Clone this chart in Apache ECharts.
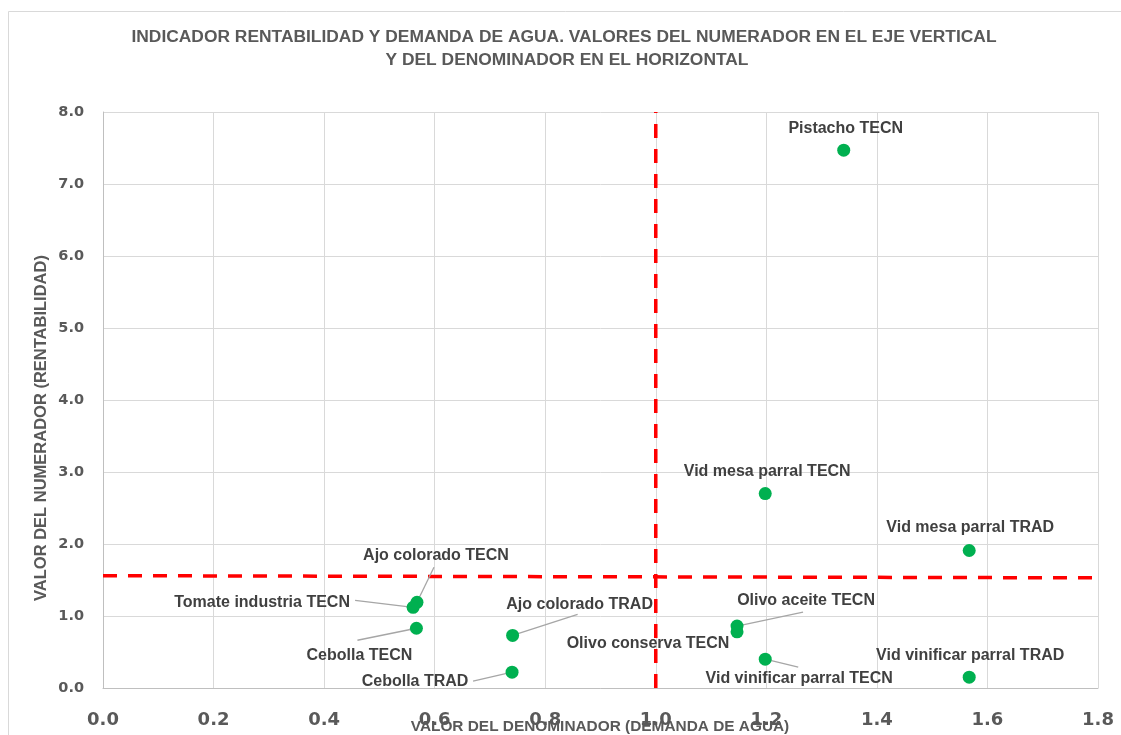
<!DOCTYPE html>
<html><head><meta charset="utf-8">
<script src="https://cdn.jsdelivr.net/npm/echarts@6/dist/echarts.min.js"></script>
<style>html,body{margin:0;padding:0;background:#fff}#c{width:1121px;height:735px}</style>
</head><body><div id="c"></div>
<script>
// ---- data ----
const cultivos = [
  "Pistacho TECN", "Vid mesa parral TECN", "Vid mesa parral TRAD",
  "Ajo colorado TECN", "Tomate industria TECN", "Cebolla TECN",
  "Ajo colorado TRAD", "Cebolla TRAD", "Olivo aceite TECN",
  "Olivo conserva TECN", "Vid vinificar parral TECN", "Vid vinificar parral TRAD"
];
const demandaAgua = [1.340, 1.198, 1.567, 0.568, 0.561, 0.567, 0.741, 0.740, 1.147, 1.147, 1.198, 1.567];
const rentabilidad = [7.47, 2.70, 1.91, 1.19, 1.12, 0.83, 0.73, 0.22, 0.86, 0.78, 0.40, 0.15];
const umbralRentabilidad = [[0, 1.56], [1.8, 1.53]];
const umbralDemanda = [[1.0, 0], [1.0, 8.0]];
const xTicks = [0, 0.2, 0.4, 0.6, 0.8, 1.0, 1.2, 1.4, 1.6, 1.8];
const yTicks = [0, 1, 2, 3, 4, 5, 6, 7, 8];

// ---- label layout (offsets from the point, px) ----
const labelOffsets = [
  [2, -22], [2, -22], [1, -23], [19, -47], [-151, -5], [-57, 27],
  [67, -31], [-97, 9], [69, -25], [-89, 12], [34, 19], [1, -22]
];
// leader line end, relative to the point (null = no leader)
const leaderOffsets = [
  null, null, null, [17, -35], [-58, -7], [-59, 12],
  [65, -21], [-39, 9], [66, -14], null, [33, 8], null
];

const chart = echarts.init(document.getElementById('c'));
const gray = '#595959';
const tickFont = 'DejaVu Sans';
const sans = '"Liberation Sans", Arial, sans-serif';
const puntos = cultivos.map((n, i) => [demandaAgua[i], rentabilidad[i], i]);

chart.setOption({
  animation: false,
  backgroundColor: '#fff',
  graphic: [
    { type: 'rect', left: 6, top: 9, shape: { width: 1300, height: 900 }, style: { fill: 'none', stroke: '#d9d9d9', lineWidth: 1 }, silent: true, z: -10 },
    { type: 'text', x: 564, y: 37, style: { text: 'INDICADOR RENTABILIDAD Y DEMANDA DE AGUA. VALORES DEL NUMERADOR EN EL EJE VERTICAL', font: 'bold 17.4px ' + sans, fill: gray, align: 'center', verticalAlign: 'middle' } },
    { type: 'text', x: 567, y: 60, style: { text: 'Y DEL DENOMINADOR EN EL HORIZONTAL', font: 'bold 17.4px ' + sans, fill: gray, align: 'center', verticalAlign: 'middle' } },
    { type: 'text', x: 600, y: 727, style: { text: 'VALOR DEL DENOMINADOR (DEMANDA DE AGUA)', font: 'bold 15.4px ' + sans, fill: gray, align: 'center', verticalAlign: 'middle' }, z: 10 },
    { type: 'text', x: 41, y: 428, rotation: Math.PI / 2, style: { text: 'VALOR DEL NUMERADOR (RENTABILIDAD)', font: 'bold 16.5px ' + sans, fill: gray, align: 'center', verticalAlign: 'middle' } }
  ],
  grid: { left: 103, right: 23, top: 112, bottom: 47, containLabel: false },
  xAxis: {
    type: 'value', min: 0, max: 1.8, interval: 0.2,
    axisLine: { show: true, lineStyle: { color: '#bfbfbf', width: 1 } },
    axisTick: { show: false },
    splitLine: { show: true, lineStyle: { color: '#d9d9d9', width: 1 } },
    axisLabel: { margin: 23, color: gray, fontFamily: tickFont, fontWeight: 'bold', fontSize: 18,
      formatter: v => v.toFixed(1) }
  },
  yAxis: {
    type: 'value', min: 0, max: 8, interval: 1,
    axisLine: { show: true, lineStyle: { color: '#bfbfbf', width: 1 } },
    axisTick: { show: false },
    splitLine: { show: true, lineStyle: { color: '#d9d9d9', width: 1 } },
    axisLabel: { margin: 19, color: gray, fontFamily: tickFont, fontWeight: 'bold', fontSize: 14.5,
      formatter: v => v.toFixed(1) }
  },
  series: [
    {
      type: 'line', data: umbralRentabilidad, symbol: 'none', silent: true, z: 3,
      lineStyle: { color: '#ff0000', width: 3.5, type: [14, 11] }
    },
    {
      type: 'line', data: umbralDemanda, symbol: 'none', silent: true, z: 3,
      lineStyle: { color: '#ff0000', width: 3.5, type: [14, 11] }
    },
    {
      type: 'custom', z: 4, silent: true,
      data: puntos,
      encode: { x: 0, y: 1 },
      renderItem: (params, api) => {
        const i = api.value(2);
        const off = leaderOffsets[i];
        if (!off) return null;
        const p = api.coord([api.value(0), api.value(1)]);
        return {
          type: 'line',
          shape: { x1: p[0], y1: p[1], x2: p[0] + off[0], y2: p[1] + off[1] },
          style: { stroke: '#a6a6a6', lineWidth: 1.3 }
        };
      }
    },
    {
      type: 'scatter', z: 5, symbolSize: 13,
      itemStyle: { color: '#00b050', opacity: 1 },
      data: cultivos.map((n, i) => ({ name: n, value: [demandaAgua[i], rentabilidad[i]] })),
      label: {
        show: true, position: 'inside', formatter: p => p.name,
        fontFamily: sans, fontWeight: 'bold', fontSize: 16, color: '#404040'
      },
      labelLayout: p => ({ dx: labelOffsets[p.dataIndex][0], dy: labelOffsets[p.dataIndex][1] })
    }
  ]
});
</script>
</body></html>
